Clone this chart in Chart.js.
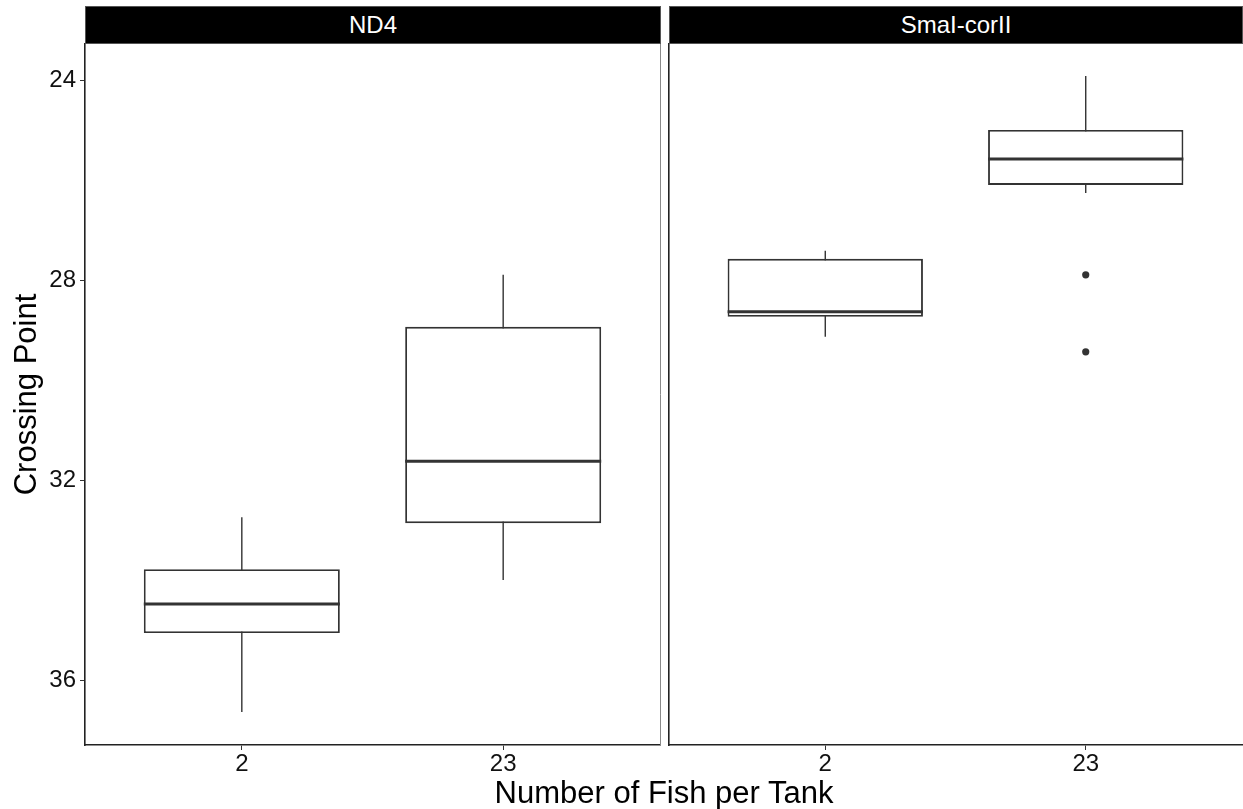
<!DOCTYPE html>
<html>
<head>
<meta charset="utf-8">
<script src="https://cdn.jsdelivr.net/npm/chart.js@4.4.1/dist/chart.umd.min.js"></script>
<style>
html,body{margin:0;padding:0;background:#fff;}
body{width:1243px;height:809px;position:relative;overflow:hidden;font-family:"Liberation Sans",Arial,sans-serif;}
canvas{position:absolute;top:0;}
.strip{position:absolute;top:6px;height:38px;background:#000;color:#fff;font-size:24px;display:flex;align-items:center;justify-content:center;box-sizing:border-box;border:1px solid #555;}
#xtitle{position:absolute;left:85px;width:1158px;top:777px;text-align:center;font-size:31px;line-height:31px;color:#000;}
</style>
</head>
<body>
<canvas id="c1" width="664" height="809" style="left:0"></canvas>
<canvas id="c2" width="582" height="809" style="left:664px"></canvas>
<div class="strip" id="s1" style="left:85px;width:576px;"></div>
<div class="strip" id="s2" style="left:669px;width:574px;"></div>
<div id="xtitle"></div>
<script>
// ---- data ----
const categories = ['2', '23'];
const catPos = [1, 2];
const panelNames = ['ND4', 'SmaI-corII'];
const yTicks = [24, 28, 32, 36];
const yTitle = 'Crossing Point';
const xTitle = 'Number of Fish per Tank';

// ND4
const nd4Low    = [32.74, 27.89];
const nd4Q1     = [33.78, 28.93];
const nd4Median = [34.48, 31.62];
const nd4Q3     = [35.06, 32.86];
const nd4High   = [36.64, 34.00];
const nd4OutCat = [];
const nd4OutVal = [];

// SmaI-corII
const smaLow    = [27.41, 23.91];
const smaQ1     = [27.57, 24.99];
const smaMedian = [28.63, 25.57];
const smaQ3     = [28.73, 26.09];
const smaHigh   = [29.13, 26.25];
const smaOutCat = [1, 1];
const smaOutVal = [27.89, 29.43];

// ---- chart ----
const FONT = "'Liberation Sans', Arial, sans-serif";
const INK = '#333333';
const BOX_HALF = 0.375;

document.getElementById('s1').textContent = panelNames[0];
document.getElementById('s2').textContent = panelNames[1];
document.getElementById('xtitle').textContent = xTitle;

const rightEdge = {
  id: 'rightEdge',
  afterDraw(chart, args, opts) {
    if (!opts.show) return;
    const a = chart.chartArea, ctx = chart.ctx;
    ctx.save();
    ctx.strokeStyle = '#8a8a8a';
    ctx.lineWidth = 1;
    ctx.beginPath();
    ctx.moveTo(a.right + 0.5, a.top);
    ctx.lineTo(a.right + 0.5, a.bottom);
    ctx.stroke();
    ctx.restore();
  }
};

function makeChart(id, low, q1, med, q3, high, outCat, outVal, isLeft) {
  const whiskers = [], medians = [];
  catPos.forEach((p, i) => {
    whiskers.push({x: p, y: low[i]}, {x: p, y: high[i]}, {x: p, y: null});
    medians.push({x: p - BOX_HALF, y: med[i]}, {x: p + BOX_HALF, y: med[i]}, {x: p, y: null});
  });
  const outliers = outCat.map((c, i) => ({x: catPos[c], y: outVal[i]}));
  return new Chart(document.getElementById(id), {
    type: 'bar',
    data: {
      datasets: [
        {
          type: 'bar',
          data: catPos.map((p, i) => ({x: p, y: [q1[i], q3[i]]})),
          backgroundColor: '#ffffff',
          borderColor: INK,
          borderWidth: 1.9,
          borderSkipped: false,
          barPercentage: 0.75,
          categoryPercentage: 1,
          order: 1
        },
        {
          type: 'scatter',
          showLine: true,
          spanGaps: false,
          data: whiskers,
          borderColor: INK,
          borderWidth: 1.4,
          pointRadius: 0,
          order: 2
        },
        {
          type: 'scatter',
          showLine: true,
          spanGaps: false,
          data: medians,
          borderColor: INK,
          borderWidth: 3,
          pointRadius: 0,
          order: 0
        },
        {
          type: 'scatter',
          data: outliers,
          backgroundColor: INK,
          borderWidth: 0,
          pointRadius: 3.6,
          order: 0
        }
      ]
    },
    options: {
      responsive: false,
      animation: false,
      events: [],
      layout: {padding: {top: 44, right: isLeft ? 4 : 0, left: 0, bottom: 0}},
      plugins: {
        legend: {display: false},
        tooltip: {enabled: false},
        rightEdge: {show: isLeft}
      },
      scales: {
        x: {
          type: 'linear',
          offset: false,
          min: 0.4, max: 2.6,
          afterBuildTicks: s => { s.ticks = catPos.map(v => ({value: v})); },
          afterFit: s => { s.height = 64; },
          ticks: {
            callback: (v, i) => categories[i],
            font: {size: 24, family: FONT},
            color: '#111',
            padding: 0,
            maxRotation: 0,
            autoSkip: false
          },
          grid: {display: true, offset: false, drawOnChartArea: false, drawTicks: true, tickLength: 5, color: INK, lineWidth: 1},
          border: {display: true, color: '#222', width: 1.6}
        },
        y: {
          type: 'linear',
          reverse: true,
          min: 23.27, max: 37.30,
          afterBuildTicks: s => { s.ticks = yTicks.map(v => ({value: v})); },
          afterFit: s => { s.width = isLeft ? 85 : 5; },
          ticks: {
            display: isLeft,
            font: {size: 24, family: FONT},
            color: '#111',
            padding: 4
          },
          grid: {display: isLeft, drawOnChartArea: false, drawTicks: isLeft, tickLength: 5, color: INK, lineWidth: 1},
          border: {display: true, color: '#222', width: 1.6},
          title: {
            display: isLeft,
            text: yTitle,
            font: {size: 31, family: FONT},
            color: '#000',
            padding: {top: 9, bottom: 0}
          }
        }
      }
    },
    plugins: [rightEdge]
  });
}

makeChart('c1', nd4Low, nd4Q1, nd4Median, nd4Q3, nd4High, nd4OutCat, nd4OutVal, true);
makeChart('c2', smaLow, smaQ1, smaMedian, smaQ3, smaHigh, smaOutCat, smaOutVal, false);
</script>
</body>
</html>
